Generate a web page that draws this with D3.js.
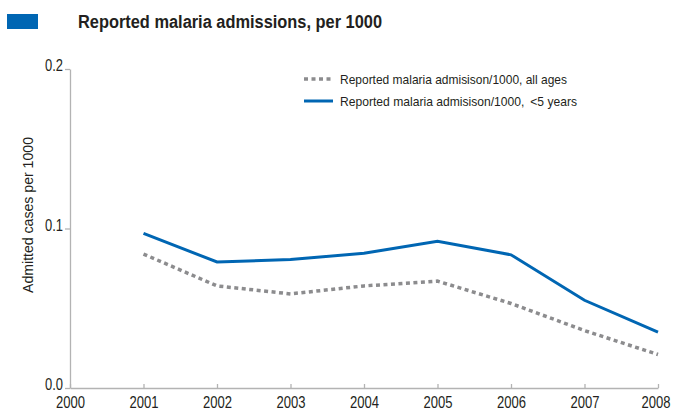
<!DOCTYPE html>
<html>
<head>
<meta charset="utf-8">
<script src="https://cdn.jsdelivr.net/npm/d3@7"></script>
<style>
  body { margin: 0; background: #fff; }
  svg text { font-family: "Liberation Sans", Arial, sans-serif; fill: #231f20; }
</style>
</head>
<body>
<div id="chart"></div>
<script>
const years = [2000, 2001, 2002, 2003, 2004, 2005, 2006, 2007, 2008];
const seriesYears = [2001, 2002, 2003, 2004, 2005, 2006, 2007, 2008];
const allAges = [0.084, 0.064, 0.059, 0.064, 0.067, 0.053, 0.036, 0.021];
const under5 = [0.097, 0.079, 0.0805, 0.0845, 0.092, 0.0835, 0.055, 0.035];
const yTicks = [0.0, 0.1, 0.2];
const legendLabels = [
  "Reported malaria admisison/1000, all ages",
  "Reported malaria admisison/1000, \u2009<5 years"
];

const width = 675;
const height = 412;
const margin = { top: 69, right: 17, bottom: 24, left: 70 };

// the original uses a condensed face, squeeze the text to its width
const squeeze = (sel, w) => sel.attr("textLength", w).attr("lengthAdjust", "spacingAndGlyphs");

const svg = d3.select("#chart").append("svg")
  .attr("width", width)
  .attr("height", height);

svg.append("rect")
  .attr("x", 7).attr("y", 14)
  .attr("width", 31).attr("height", 15)
  .attr("fill", "#0066b3");

svg.append("text")
  .attr("x", 78).attr("y", 28)
  .attr("font-size", 18)
  .attr("font-weight", "bold")
  .attr("fill", "#231f20")
  .text("Reported malaria admissions, per 1000")
  .call(squeeze, 304);

const x = d3.scaleLinear()
  .domain([2000, 2008])
  .range([margin.left, width - margin.right]);

const y = d3.scaleLinear()
  .domain([0, 0.2])
  .range([height - margin.bottom, margin.top]);

const xAxis = d3.axisBottom(x)
  .tickValues(years)
  .tickFormat(d3.format("d"))
  .tickSizeInner(-4)
  .tickSizeOuter(0);

const yAxis = d3.axisLeft(y)
  .tickValues(yTicks)
  .tickFormat(d3.format(".1f"))
  .tickSizeInner(5)
  .tickSizeOuter(0);

const gx = svg.append("g")
  .attr("transform", `translate(0, ${height - margin.bottom})`)
  .call(xAxis);
gx.selectAll("text")
  .attr("font-size", 16)
  .attr("y", 20).attr("dy", null)
  .call(squeeze, 29);
// keep the last year inside the frame
gx.selectAll("text").filter((d) => d === 2008)
  .attr("text-anchor", "end")
  .attr("x", 12);

const gy = svg.append("g")
  .attr("transform", `translate(${margin.left}, 0)`)
  .call(yAxis);
gy.selectAll("text")
  .attr("font-size", 16)
  .attr("x", -7)
  .attr("dy", "0.1em")
  .call(squeeze, 18);

svg.selectAll(".domain, .tick line").attr("stroke", "#b3b3b3").attr("stroke-width", 1.3);

svg.append("text")
  .attr("transform", `translate(33, 215) rotate(-90)`)
  .attr("text-anchor", "middle")
  .attr("font-size", 15)
  .text("Admitted cases per 1000")
  .call(squeeze, 156);

const line = d3.line()
  .x((d, i) => x(seriesYears[i]))
  .y((d) => y(d));

svg.append("path")
  .datum(allAges)
  .attr("fill", "none")
  .attr("stroke", "#8c8c8e")
  .attr("stroke-width", 3.5)
  .attr("stroke-dasharray", "4,3.5")
  .attr("d", line);

svg.append("path")
  .datum(under5)
  .attr("fill", "none")
  .attr("stroke", "#0066b3")
  .attr("stroke-width", 3)
  .attr("d", line);

// legend
const legend = svg.append("g").attr("transform", "translate(304, 79)");
const styles = [
  { stroke: "#8c8c8e", dash: "4,3.5", w: 3.5, len: 227 },
  { stroke: "#0066b3", dash: null, w: 3, len: 237 }
];
legendLabels.forEach((label, i) => {
  const g = legend.append("g").attr("transform", `translate(0, ${i * 22})`);
  g.append("line")
    .attr("x1", 0).attr("x2", 29)
    .attr("stroke", styles[i].stroke)
    .attr("stroke-width", styles[i].w)
    .attr("stroke-dasharray", styles[i].dash);
  g.append("text")
    .attr("x", 36).attr("y", 5)
    .attr("font-size", 13.5)
    .text(label)
    .call(squeeze, styles[i].len);
});
</script>
</body>
</html>
